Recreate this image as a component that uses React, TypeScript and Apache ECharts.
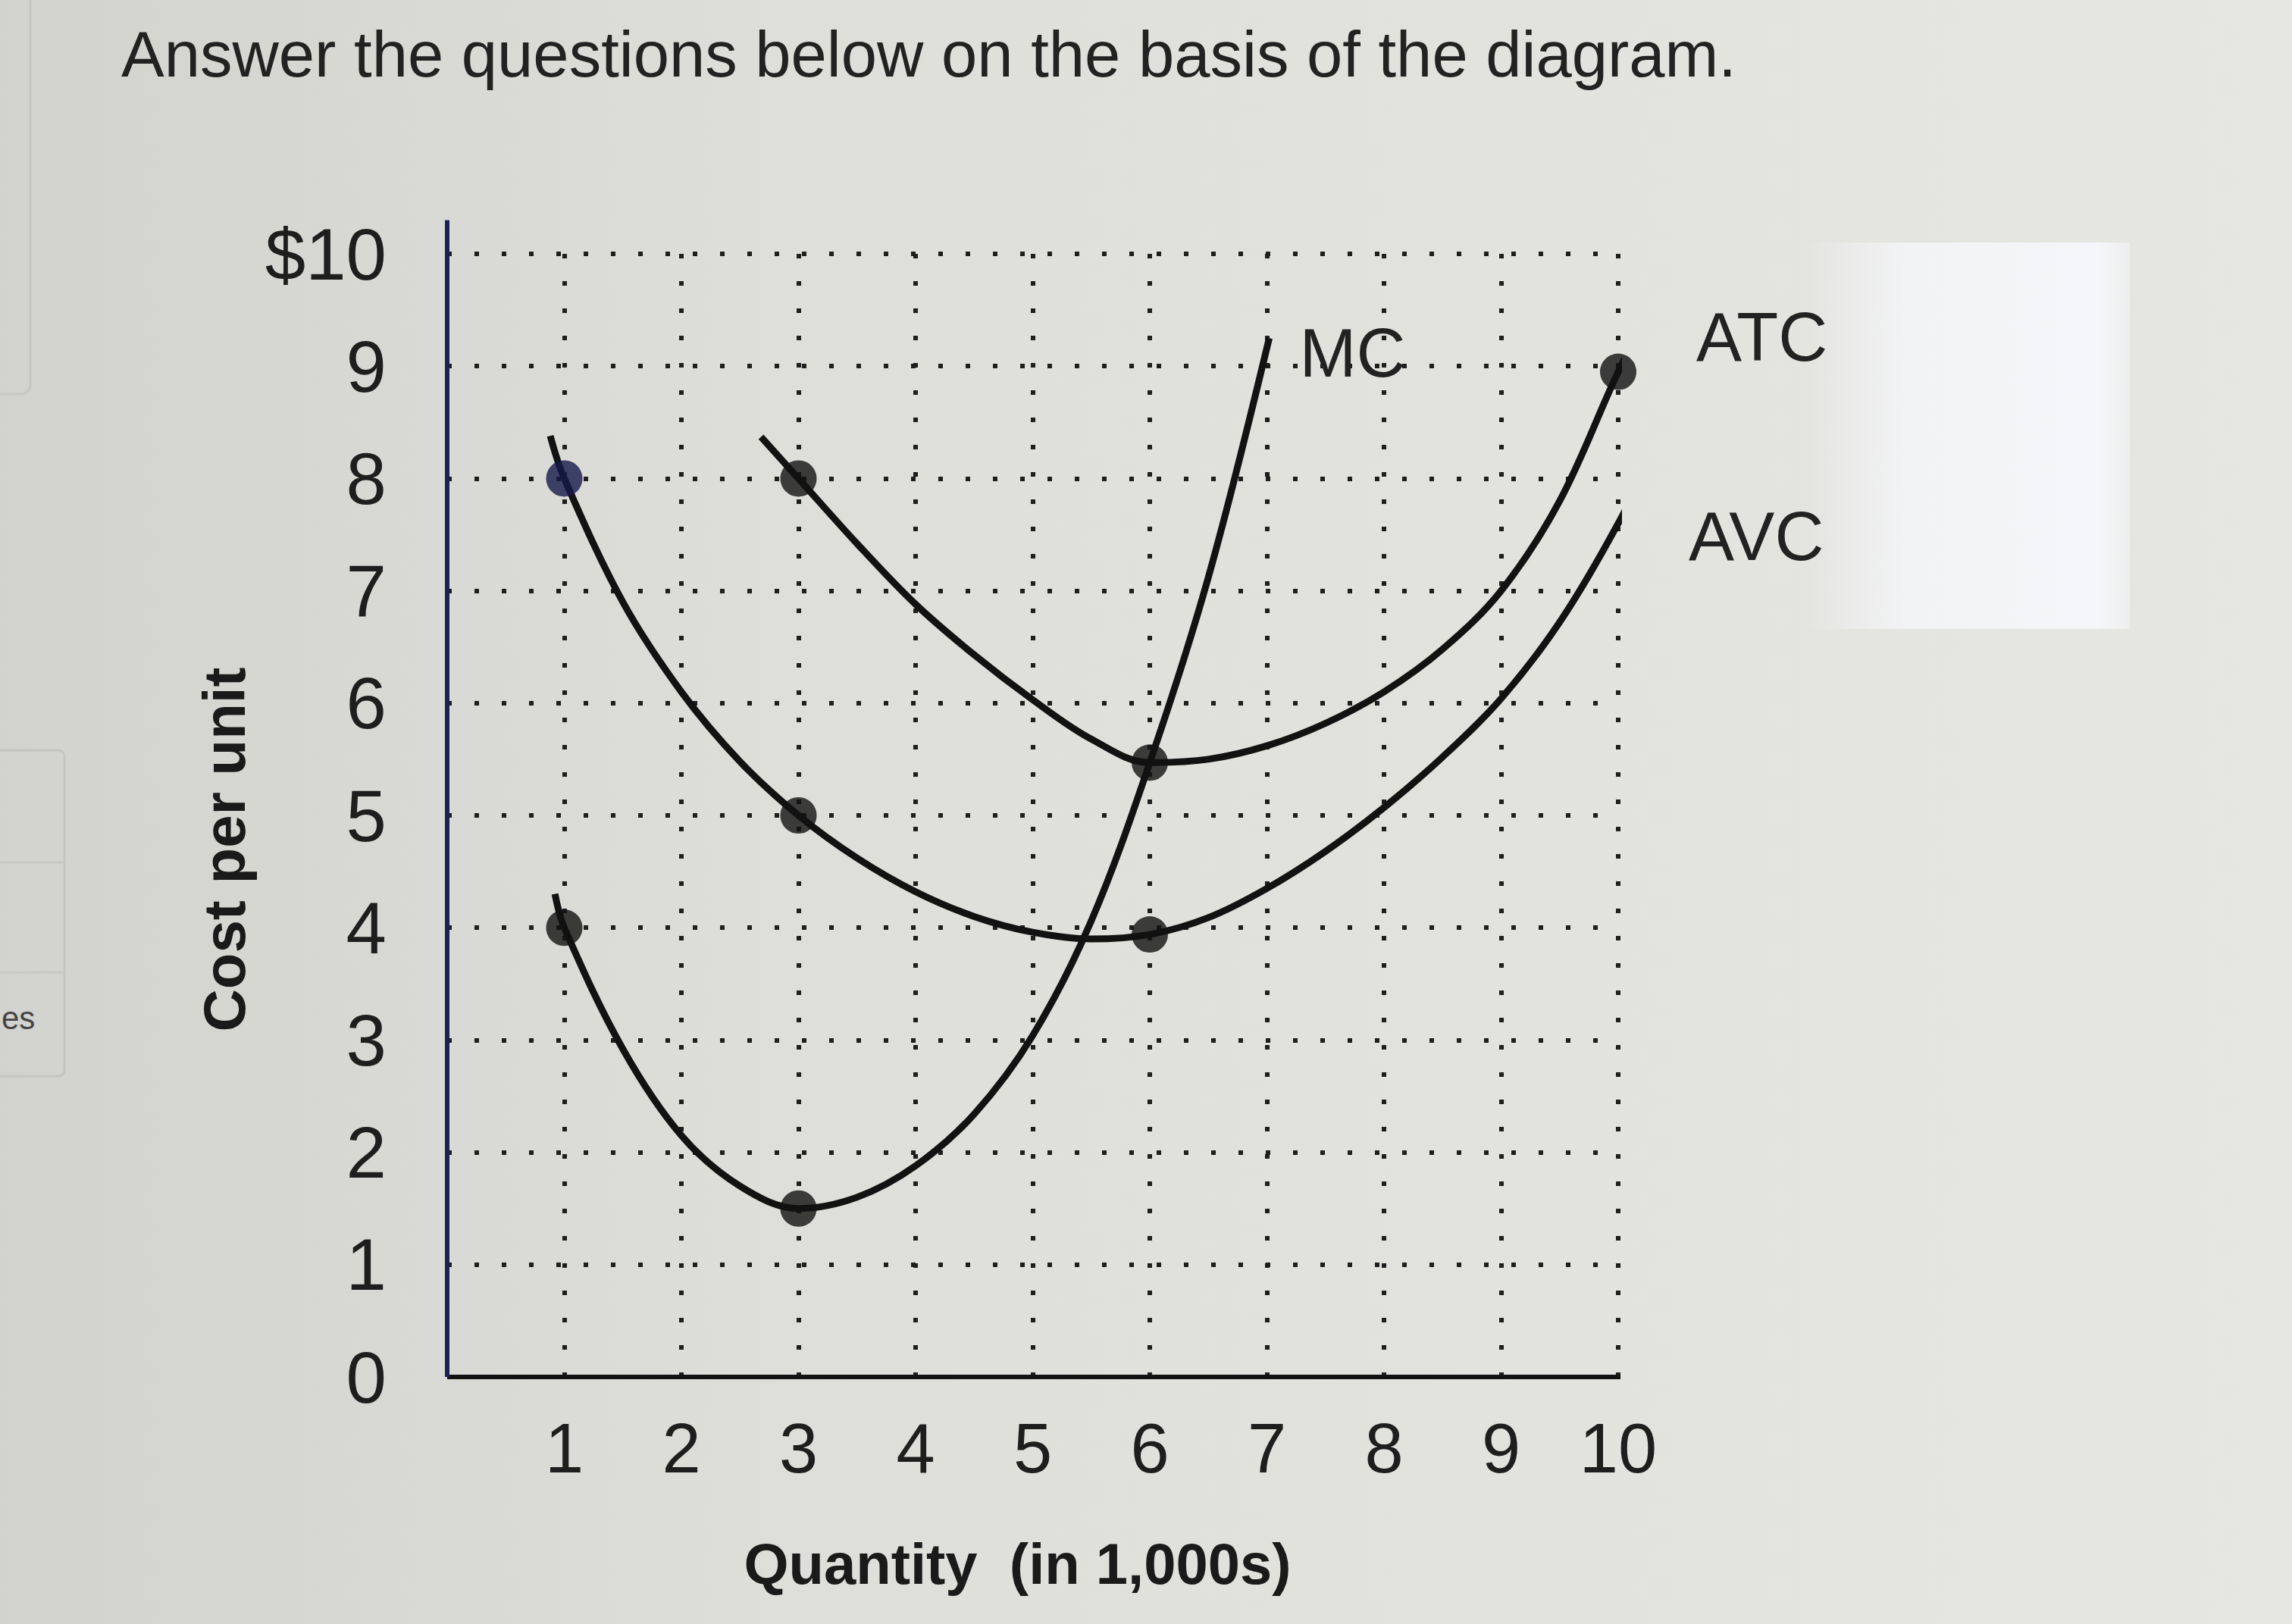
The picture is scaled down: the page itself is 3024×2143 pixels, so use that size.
import React, { useEffect, useRef } from "react";
import * as echarts from "echarts";

// ---- text ----
const titleText = "Answer the questions below on the basis of the diagram.";
const xAxisName = "Quantity  (in 1,000s)";
const yAxisName = "Cost per unit";
const sideText = "es";
const yTickLabels = ["0", "1", "2", "3", "4", "5", "6", "7", "8", "9", "$10"];
const xTickLabels = ["", "1", "2", "3", "4", "5", "6", "7", "8", "9", "10"];

// ---- curves (quantity in 1,000s, cost per unit in $) ----
const mcQ = [0.92, 1, 1.5, 2, 2.5, 3, 3.5, 4, 4.5, 5, 5.5, 6, 6.5, 7.02];
const mcCost = [4.3, 4.0, 2.92, 2.15, 1.7, 1.5, 1.6, 1.88, 2.34, 3.04, 4.06, 5.47, 7.12, 9.25];

const avcQ = [0.88, 1, 1.5, 2, 2.5, 3, 3.5, 4, 4.5, 5, 5.5, 6, 6.5, 7, 7.5, 8, 8.5, 9, 9.5, 10, 10.4];
const avcCost = [8.38, 8.0, 6.9, 6.1, 5.48, 5.0, 4.62, 4.32, 4.1, 3.96, 3.9, 3.94, 4.09, 4.35, 4.68, 5.07, 5.52, 6.04, 6.72, 7.6, 8.45];

const atcQ = [2.68, 3, 3.5, 4, 4.5, 5, 5.5, 6, 6.5, 7, 7.5, 8, 8.5, 9, 9.5, 10, 10.27];
const atcCost = [8.37, 8.0, 7.42, 6.88, 6.43, 6.03, 5.68, 5.47, 5.5, 5.62, 5.82, 6.1, 6.48, 7.0, 7.8, 8.95, 9.5];

// ---- highlighted points ----
const mcDotQ = [1, 3];
const mcDotCost = [4, 1.5];
const avcDotQ = [3, 6];
const avcDotCost = [5, 3.94];
const avcFirstDotQ = [1];
const avcFirstDotCost = [8];
const atcDotQ = [3, 6, 10];
const atcDotCost = [8, 5.47, 8.95];

// ---- axes extents ----
const xMin = 0;
const xMax = 10;
const yMin = 0;
const yMax = 10;
const xAxisLineEnd = 10.6;
const yAxisLineEnd = 10.3;

const zip = (a: number[], b: number[]) => a.map((v, i) => [v, b[i]]);

export default function App() {
  const ref = useRef<HTMLDivElement>(null);

  useEffect(() => {
    if (!ref.current) return;
    const chart = echarts.init(ref.current, null, { renderer: "svg" });
    const font = "Liberation Sans, Arial, Helvetica, sans-serif";
    const ink = "#121212";
    const grid = { type: [6, 30] as any, width: 6, color: "#1e1e1e" };

    const curve = (name: string, q: number[], c: number[], off: number[]) => ({
      type: "line",
      name,
      data: zip(q, c),
      smooth: 0.35,
      symbol: "none",
      clip: false,
      silent: true,
      z: 5,
      lineStyle: { color: ink, width: 9 },
      endLabel: {
        show: true,
        formatter: name,
        offset: off,
        fontFamily: font,
        fontSize: 90,
        color: "#222",
      },
    });

    const dots = (q: number[], c: number[], color: string) => ({
      type: "scatter",
      data: zip(q, c),
      symbol: "circle",
      symbolSize: 48,
      clip: false,
      silent: true,
      z: 6,
      itemStyle: { color },
    });

    const option: any = {
      animation: false,
      backgroundColor: new echarts.graphic.LinearGradient(0, 0, 1, 0, [
        { offset: 0, color: "#d2d2ce" },
        { offset: 0.35, color: "#dededa" },
        { offset: 1, color: "#e6e6e3" },
      ]),
      title: {
        text: titleText,
        left: 155,
        top: 24,
        textStyle: { fontFamily: font, fontSize: 85, fontWeight: "normal", color: "#222" },
      },
      graphic: [
        {
          type: "rect",
          z: -10,
          shape: { x: 2380, y: 320, width: 430, height: 510 },
          style: {
            fill: new echarts.graphic.LinearGradient(0, 0, 1, 0, [
              { offset: 0, color: "rgba(245,246,249,0)" },
              { offset: 0.3, color: "rgba(245,246,249,0.8)" },
              { offset: 0.9, color: "rgba(246,247,250,0.95)" },
              { offset: 1, color: "rgba(246,247,250,0.5)" },
            ]),
          },
          silent: true,
        },
        {
          type: "text",
          left: 2,
          top: 1322,
          style: { text: sideText, fontFamily: font, fontSize: 42, fill: "#444" },
        },
        {
          type: "rect",
          shape: { x: -20, y: -20, width: 60, height: 540, r: 12 },
          style: { fill: "none", stroke: "#c6c6c2", lineWidth: 3 },
          silent: true,
        },
        {
          type: "rect",
          shape: { x: -10, y: 990, width: 95, height: 430, r: 8 },
          style: { fill: "none", stroke: "#c4c4c0", lineWidth: 3 },
          silent: true,
        },
        {
          type: "line",
          shape: { x1: 0, y1: 1138, x2: 85, y2: 1138 },
          style: { stroke: "#c8c8c4", lineWidth: 3 },
          silent: true,
        },
        {
          type: "line",
          shape: { x1: 0, y1: 1283, x2: 85, y2: 1283 },
          style: { stroke: "#c8c8c4", lineWidth: 3 },
          silent: true,
        },
      ],
      grid: { left: 590, top: 335, width: 1545, height: 1482, containLabel: false },
      xAxis: {
        type: "value",
        min: xMin,
        max: xMax,
        interval: 1,
        name: xAxisName,
        nameLocation: "middle",
        nameGap: 208,
        nameTextStyle: {
          fontFamily: font,
          fontSize: 76,
          fontWeight: "bold",
          color: "#1a1a1a",
          padding: [0, 40, 0, 0],
        },
        axisLine: { show: false },
        axisTick: { show: false },
        axisLabel: {
          formatter: (v: number) => xTickLabels[Math.round(v)] ?? "",
          fontFamily: font,
          fontSize: 92,
          color: "#1e1e1e",
          margin: 48,
        },
        splitLine: { show: true, showMinLine: false, lineStyle: grid },
      },
      yAxis: {
        type: "value",
        min: yMin,
        max: yMax,
        interval: 1,
        name: yAxisName,
        nameLocation: "middle",
        nameRotate: 90,
        nameGap: 255,
        nameTextStyle: {
          fontFamily: font,
          fontSize: 78,
          fontWeight: "bold",
          color: "#1a1a1a",
          padding: [0, 90, 0, 0],
        },
        axisLine: { show: false },
        axisTick: { show: false },
        axisLabel: {
          formatter: (v: number) => yTickLabels[Math.round(v)] ?? "",
          fontFamily: font,
          fontSize: 96,
          color: "#1e1e1e",
          margin: 80,
        },
        splitLine: { show: true, showMinLine: false, lineStyle: grid },
      },
      series: [
        {
          type: "line",
          data: [[xMin, yMin], [xAxisLineEnd, yMin]],
          symbol: "none",
          clip: false,
          silent: true,
          z: 4,
          lineStyle: { color: ink, width: 6 },
        },
        {
          type: "line",
          data: [[xMin, yMin], [xMin, yAxisLineEnd]],
          symbol: "none",
          clip: false,
          silent: true,
          z: 4,
          lineStyle: { color: "#1d2350", width: 6 },
        },
        curve("MC", mcQ, mcCost, [32, 20]),
        curve("ATC", atcQ, atcCost, [90, -36]),
        curve("AVC", avcQ, avcCost, [80, 28]),
        dots(mcDotQ, mcDotCost, ink),
        dots(avcDotQ, avcDotCost, ink),
        dots(avcFirstDotQ, avcFirstDotCost, "#15194a"),
        dots(atcDotQ, atcDotCost, ink),
      ],
    };

    chart.setOption(option);
    return () => chart.dispose();
  }, []);

  return (
    <div
      ref={ref}
      style={{ position: "fixed", left: 0, top: 0, width: 3024, height: 2143 }}
    />
  );
}
